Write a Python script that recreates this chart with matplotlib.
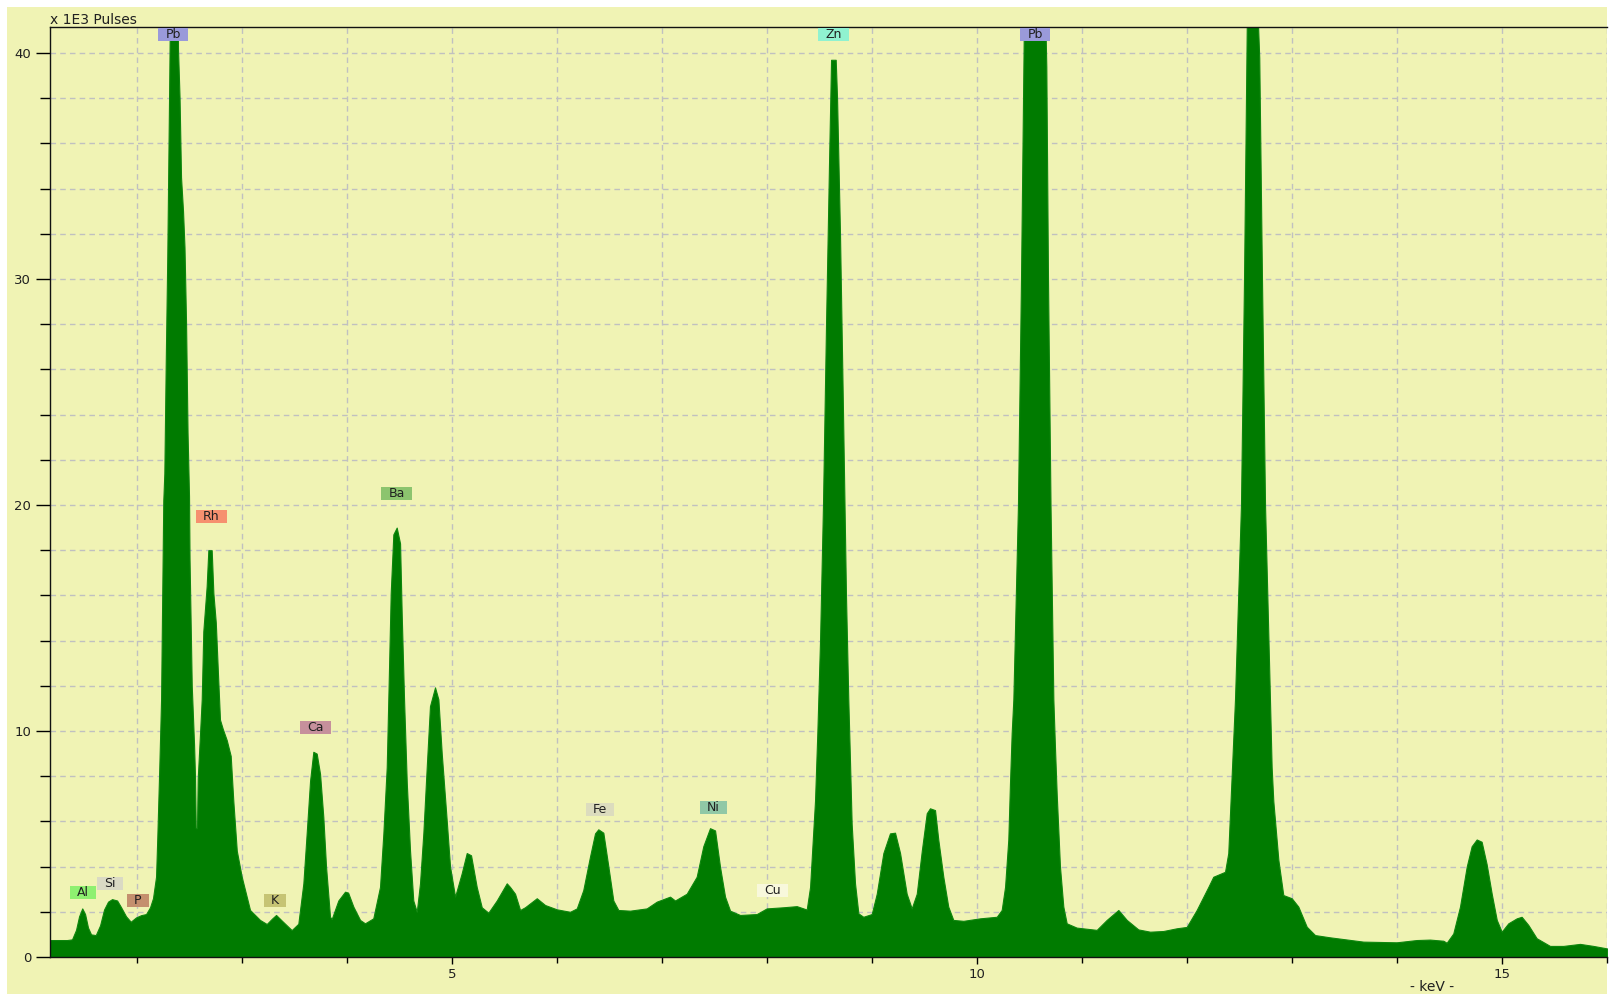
import matplotlib
matplotlib.use("Agg")
import matplotlib.pyplot as plt
from matplotlib.path import Path
from matplotlib.patches import Rectangle
from matplotlib.ticker import MultipleLocator

plt.rcParams['font.family'] = ['DejaVu Sans']

# ---------------- data ----------------
energy_kev = [
    1.171, 1.333, 1.381, 1.419, 1.448, 1.478, 1.505, 1.533, 1.562, 1.607,
    1.648, 1.686, 1.724, 1.762, 1.810, 1.848, 1.895, 1.940, 1.990, 2.038,
    2.086, 2.124, 2.152, 2.181, 2.193, 2.212, 2.229, 2.235, 2.250, 2.260,
    2.273, 2.288, 2.307, 2.314, 2.388, 2.390, 2.405, 2.419, 2.438, 2.452,
    2.467, 2.481, 2.495, 2.500, 2.521, 2.543, 2.552, 2.559, 2.571, 2.578,
    2.600, 2.616, 2.631, 2.663, 2.679, 2.711, 2.727, 2.750, 2.771, 2.790,
    2.816, 2.854, 2.892, 2.917, 2.950, 2.997, 3.076, 3.171, 3.235, 3.286,
    3.324, 3.381, 3.473, 3.536, 3.584, 3.616, 3.648, 3.679, 3.711, 3.743,
    3.774, 3.800, 3.838, 3.854, 3.917, 3.981, 4.010, 4.060, 4.124, 4.171,
    4.250, 4.314, 4.346, 4.378, 4.400, 4.416, 4.441, 4.473, 4.505, 4.521,
    4.543, 4.569, 4.600, 4.631, 4.664, 4.695, 4.727, 4.759, 4.790, 4.838,
    4.870, 4.902, 4.950, 4.981, 5.029, 5.092, 5.140, 5.181, 5.235, 5.283,
    5.346, 5.426, 5.521, 5.552, 5.600, 5.648, 5.695, 5.807, 5.886, 5.997,
    6.124, 6.188, 6.250, 6.314, 6.362, 6.393, 6.441, 6.489, 6.536, 6.584,
    6.695, 6.854, 6.950, 7.076, 7.124, 7.235, 7.330, 7.393, 7.457, 7.505,
    7.552, 7.600, 7.648, 7.743, 7.902, 7.997, 8.155, 8.283, 8.378, 8.410,
    8.457, 8.479, 8.505, 8.533, 8.562, 8.590, 8.610, 8.654, 8.667, 8.695,
    8.724, 8.752, 8.774, 8.790, 8.806, 8.838, 8.870, 8.917, 8.997, 9.045,
    9.108, 9.171, 9.219, 9.267, 9.330, 9.378, 9.426, 9.474, 9.521, 9.552,
    9.600, 9.631, 9.679, 9.726, 9.774, 9.870, 10.029, 10.188, 10.235, 10.267,
    10.298, 10.314, 10.330, 10.346, 10.390, 10.419, 10.448, 10.648, 10.660, 10.676,
    10.700, 10.727, 10.743, 10.759, 10.790, 10.822, 10.854, 10.949, 11.140, 11.235,
    11.346, 11.426, 11.536, 11.648, 11.774, 11.902, 11.997, 12.092, 12.203, 12.250,
    12.362, 12.393, 12.425, 12.457, 12.514, 12.543, 12.571, 12.670, 12.688, 12.714,
    12.743, 12.790, 12.806, 12.822, 12.870, 12.917, 12.997, 13.060, 13.140, 13.219,
    13.362, 13.679, 13.997, 14.187, 14.314, 14.441, 14.473, 14.536, 14.600, 14.664,
    14.711, 14.759, 14.806, 14.854, 14.902, 14.950, 14.997, 15.060, 15.140, 15.187,
    15.250, 15.330, 15.457, 15.584, 15.743, 15.870, 16.000,
]
pulses_k = [
    0.75, 0.75, 0.78, 1.2, 1.8, 2.15, 1.9, 1.3, 1.0, 0.97,
    1.4, 2.1, 2.45, 2.56, 2.5, 2.2, 1.8, 1.56, 1.75, 1.85,
    1.9, 2.2, 2.6, 3.55, 5.3, 8.4, 11.4, 14.0, 20.2, 21.4,
    26.2, 31.0, 38.9, 42.0, 42.0, 40.2, 38.0, 34.5, 33.0, 31.4,
    28.0, 23.2, 20.4, 17.6, 12.0, 9.4, 8.0, 5.7, 5.7, 7.9,
    9.9, 11.4, 14.4, 16.4, 18.0, 18.0, 16.1, 14.8, 12.5, 10.5,
    10.1, 9.6, 8.9, 6.9, 4.7, 3.55, 2.08, 1.64, 1.46, 1.7,
    1.86, 1.6, 1.19, 1.47, 3.26, 5.5, 7.8, 9.08, 9.0, 8.1,
    6.2, 4.0, 1.78, 1.68, 2.5, 2.89, 2.85, 2.23, 1.64, 1.49,
    1.71, 3.1, 5.47, 8.4, 12.8, 16.1, 18.7, 19.0, 18.3, 15.1,
    11.4, 7.7, 4.7, 2.5, 2.0, 3.26, 5.5, 8.4, 11.1, 11.93,
    11.4, 9.0, 6.0, 4.0, 2.67, 3.7, 4.6, 4.5, 3.1, 2.2,
    1.96, 2.5, 3.26, 3.1, 2.8, 2.08, 2.2, 2.6, 2.3, 2.11,
    2.0, 2.15, 2.96, 4.44, 5.47, 5.65, 5.5, 4.0, 2.5, 2.08,
    2.05, 2.15, 2.45, 2.67, 2.5, 2.8, 3.55, 4.9, 5.7, 5.6,
    4.0, 2.67, 2.05, 1.86, 1.9, 2.15, 2.2, 2.25, 2.1, 3.1,
    6.9, 9.9, 14.0, 20.0, 28.0, 35.0, 39.7, 39.7, 38.0, 32.0,
    24.0, 16.0, 11.4, 8.7, 5.9, 3.26, 1.93, 1.78, 1.9, 2.8,
    4.6, 5.47, 5.5, 4.6, 2.8, 2.15, 2.8, 4.7, 6.36, 6.58,
    6.5, 5.2, 3.55, 2.23, 1.64, 1.6, 1.71, 1.78, 2.08, 3.1,
    5.2, 7.7, 9.9, 11.4, 20.0, 30.0, 42.0, 42.0, 39.4, 30.0,
    20.0, 11.4, 9.2, 7.2, 4.0, 2.23, 1.49, 1.3, 1.2, 1.64,
    2.08, 1.64, 1.22, 1.12, 1.15, 1.27, 1.33, 2.08, 3.1, 3.55,
    3.77, 4.6, 8.0, 11.4, 20.0, 30.0, 42.0, 42.0, 39.8, 30.0,
    20.0, 11.4, 8.4, 6.9, 4.3, 2.74, 2.6, 2.23, 1.34, 0.97,
    0.87, 0.68, 0.65, 0.75, 0.77, 0.72, 0.63, 1.04, 2.23, 4.0,
    4.9, 5.2, 5.1, 4.1, 2.8, 1.64, 1.12, 1.49, 1.71, 1.78,
    1.42, 0.83, 0.49, 0.49, 0.58, 0.49, 0.38,
]

# element labels: name, energy (keV), height (x 1E3 pulses), box colour
label_names = ['Al', 'Si', 'P', 'Pb', 'Rh', 'K', 'Ca', 'Ba', 'Fe', 'Ni', 'Cu', 'Zn', 'Pb']
label_kev = [1.483, 1.745, 2.005, 2.343, 2.705, 3.314, 3.698, 4.475, 6.410, 7.488, 8.055, 8.636, 10.552]
label_height = [2.85, 3.24, 2.51, 40.8, 19.48, 2.51, 10.14, 20.5, 6.51, 6.60, 2.96, 40.8, 40.8]
label_colors = ['#8EF070', '#DADAC4', '#C4906E', '#9A9ADA', '#F6906F', '#C6C474', '#C6909C',
                '#8CC46E', '#DCDCBE', '#90C8A6', '#F8F8DC', '#90F2D0', '#9A9ADA']

x_ticks = [5, 10, 15]
y_ticks = [0, 10, 20, 30, 40]

# ---------------- figure ----------------
W, H = 1612, 994
fig = plt.figure(figsize=(W / 100, H / 100), dpi=100, facecolor='white')
BG = '#F0F3B4'
fig.patches.append(Rectangle((7 / W, 0), 1600 / W, (H - 7) / H, transform=fig.transFigure,
                             facecolor=BG, edgecolor='none', zorder=-10))

ax = fig.add_axes([50 / W, (H - 957) / H, (1607 - 50) / W, (957 - 27) / H])
ax.set_zorder(2)
ax.set_facecolor(BG)
ax.set_xlim(1.171, 16.0)
ax.set_ylim(0, (957 - 27) / 22.6)

ax.fill_between(energy_kev, pulses_k, 0, color='#007B00', linewidth=0.8,
                edgecolor='#0E870E', zorder=2)

ax.xaxis.set_major_locator(MultipleLocator(5))
ax.xaxis.set_minor_locator(MultipleLocator(1))
ax.yaxis.set_major_locator(MultipleLocator(10))
ax.yaxis.set_minor_locator(MultipleLocator(2))
ax.set_xticks(x_ticks)
ax.set_yticks(y_ticks)
ax.set_xticklabels([str(t) for t in x_ticks])
ax.set_yticklabels([str(t) for t in y_ticks])

ax.set_axisbelow(True)
ax.grid(which='both', color='#C0C0C0', linestyle=(0, (4, 3)), linewidth=1.0, zorder=0)

ax.tick_params(axis='y', which='major', length=10, width=1, direction='out', pad=3.5,
               labelsize=9.5, labelcolor='#202020')
ax.tick_params(axis='y', which='minor', length=7, width=1, direction='out')
ax.tick_params(axis='x', which='major', length=5, width=1, direction='out', pad=3,
               labelsize=9.5, labelcolor='#202020')
ax.tick_params(axis='x', which='minor', length=4, width=1, direction='out')

for s in ['left', 'top', 'bottom']:
    ax.spines[s].set_color('#111111')
    ax.spines[s].set_linewidth(1.0)
ax.spines['right'].set_visible(False)


def label_box(x0, y0, width, height, mutation_size):
    px = 0.58 * mutation_size
    py = 0.0 * mutation_size
    xa, xb = x0 - px, x0 + width + px
    ya, yb = y0 - py, y0 + height + py
    return Path([(xa, ya), (xb, ya), (xb, yb), (xa, yb), (xa, ya)], closed=True)


for name, kev, hgt, col in zip(label_names, label_kev, label_height, label_colors):
    ax.text(kev, hgt, name, ha='center', va='center', fontsize=9, color='#202020',
            zorder=6, clip_on=False,
            bbox=dict(boxstyle=label_box, facecolor=col, edgecolor='none'))

fig.text(50 / W, 1 - 24 / H, 'x 1E3 Pulses', ha='left', va='baseline', fontsize=10,
         color='#202020')
fig.text(1431.7 / W, 1 - 987 / H, '- keV -', ha='center', va='center', fontsize=10,
         color='#202020')

fig.savefig('out.png', dpi=100, facecolor='white')
